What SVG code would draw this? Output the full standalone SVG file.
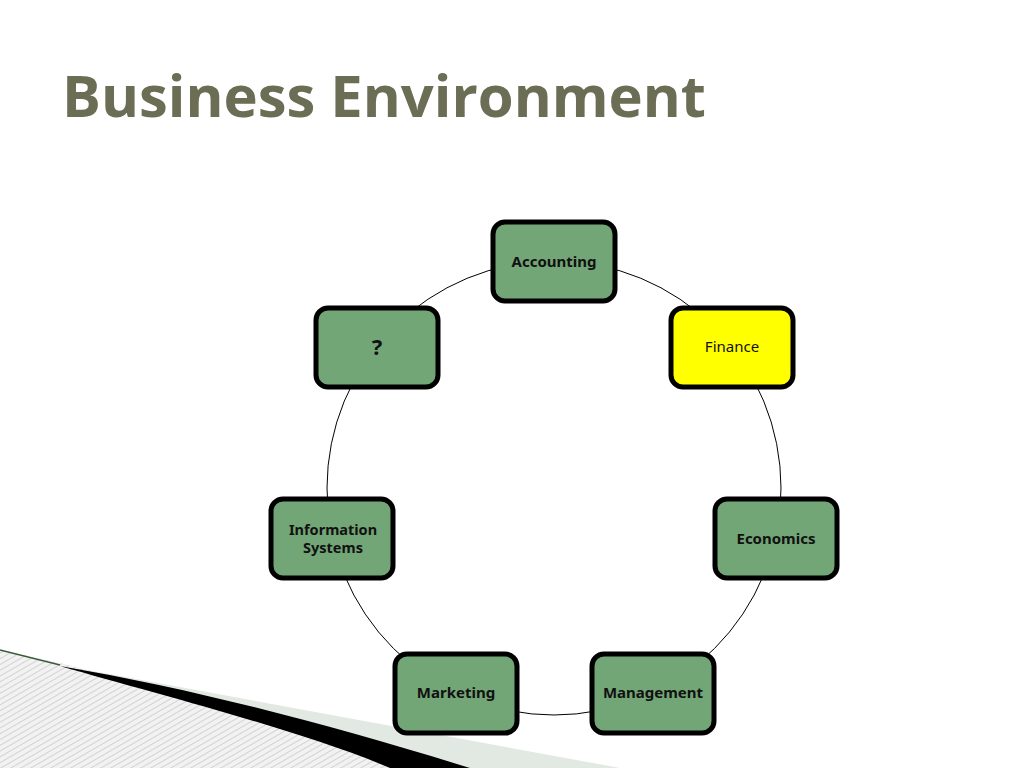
<svg xmlns="http://www.w3.org/2000/svg" width="1024" height="768" viewBox="0 0 1024 768">
<style>
.n rect{fill:#72a676;stroke:#000;stroke-width:5}
.n text{font-family:"Noto Sans","Open Sans",sans-serif;font-size:15px;font-weight:bold;fill:#111;text-anchor:middle}
</style>
<defs>
<pattern id="h" width="5" height="5" patternUnits="userSpaceOnUse" patternTransform="rotate(60)">
<rect width="5" height="5" fill="#f2f2f2"/><line x1="0" y1="0" x2="0" y2="5" stroke="#bdbdbd" stroke-width="1.2"/>
</pattern>
</defs>
<rect width="1024" height="768" fill="#fff"/>
<polygon points="0,652 60,665 620,768 0,768" fill="#e2e9e2"/>
<polygon points="0,650 60,663 470,768 0,768" fill="url(#h)"/>
<path d="M60,666 C160,695 300,730 390,768 L470,768 C330,725 200,690 60,666Z" fill="#000"/>
<path d="M0,650 L60,665" stroke="#3c5a3c" stroke-width="1.5"/>
<text x="62" y="117" font-family="'Open Sans','Noto Sans',sans-serif" font-size="58" font-weight="bold" fill="#6b6e55" textLength="644" lengthAdjust="spacingAndGlyphs">Business Environment</text>
<g id="connectors"><circle cx="554" cy="488" r="227" fill="none" stroke="#000" stroke-width="1"/></g>
<g id="accounting" class="n"><rect x="493" y="222" width="122" height="79" rx="12"/><text x="554" y="267">Accounting</text></g>
<g id="finance" class="n"><rect x="671" y="308" width="122" height="79" rx="12" style="fill:#ffff00"/><text x="732" y="352" style="font-weight:normal">Finance</text></g>
<g id="question" class="n"><rect x="316" y="308" width="122" height="79" rx="12"/><text x="377" y="355" style="font-size:22px">?</text></g>
<g id="economics" class="n"><rect x="715" y="499" width="122" height="79" rx="12"/><text x="776" y="544">Economics</text></g>
<g id="infosys" class="n"><rect x="271" y="499" width="122" height="79" rx="12"/><text x="333" y="535" style="font-size:14.5px">Information</text><text x="333" y="553" style="font-size:14.5px">Systems</text></g>
<g id="marketing" class="n"><rect x="395" y="654" width="122" height="79" rx="12"/><text x="456" y="698">Marketing</text></g>
<g id="management" class="n"><rect x="592" y="654" width="122" height="79" rx="12"/><text x="653" y="698">Management</text></g>
</svg>
